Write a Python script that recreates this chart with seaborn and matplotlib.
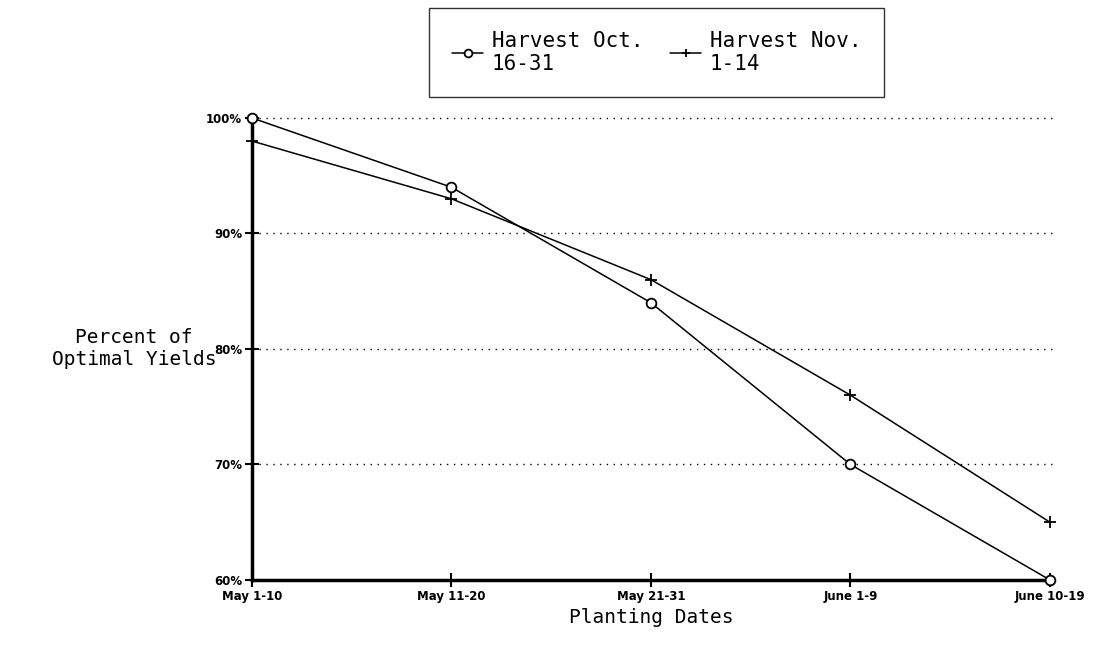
import pandas as pd
import seaborn as sns
import matplotlib.pyplot as plt

Planting_Dates = ["May 1-10", "May 11-20", "May 21-31", "June 1-9", "June 10-19"]
Harvest_Oct = [100, 94, 84, 70, 60]
Harvest_Nov = [98, 93, 86, 76, 65]
Y_Ticks = [60, 70, 80, 90, 100]
Series_Names = ["Harvest Oct.\n16-31", "Harvest Nov.\n1-14"]

Data = pd.DataFrame({
    "date": list(range(len(Planting_Dates))) * 2,
    "yield": Harvest_Oct + Harvest_Nov,
    "series": [Series_Names[0]] * len(Harvest_Oct) + [Series_Names[1]] * len(Harvest_Nov),
})

sns.set_style("white")
plt.rcParams['font.family'] = ['DejaVu Sans Mono', 'DejaVu Sans']
plt.rcParams['text.color'] = "black"
plt.rcParams['axes.labelcolor'] = "black"

fig = plt.figure(figsize=(11, 6.48), dpi=100)
ax = fig.add_axes([0.229, 0.105, 0.7255, 0.713])

plot = sns.lineplot(data=Data, x="date", y="yield", hue="series", style="series",
                    palette=["black", "black"], markers=["o", "P"], dashes=False,
                    markersize=7, linewidth=1.1, ax=ax, legend=True)
for line in ax.lines:
    line.set_markerfacecolor("white")
    line.set_markeredgecolor("black")
    line.set_markeredgewidth(1.3)
    line.set_clip_on(False)
    line.set_zorder(5)
ax.lines[1].set_marker("+")
ax.lines[1].set_markersize(8)

ax.set_xlim(0, 4)
ax.set_ylim(60, 100)
ax.set_xticks(range(len(Planting_Dates)))
ax.set_xticklabels(Planting_Dates, fontsize=8.5, fontweight="bold", family="DejaVu Sans Condensed")
ax.set_yticks(Y_Ticks)
ax.set_yticklabels([str(v) + "%" for v in Y_Ticks], fontsize=8.5, fontweight="bold",
                   family="DejaVu Sans Condensed")
for v in Y_Ticks[1:]:
    ax.axhline(v, xmin=0, xmax=1.006, color="black", linestyle=(0, (1, 4)), linewidth=1,
               clip_on=False, zorder=0)

sns.despine(ax=ax, top=True, right=True)
ax.spines["left"].set_linewidth(2.5)
ax.spines["bottom"].set_linewidth(2.5)
ax.spines["left"].set_color("black")
ax.spines["bottom"].set_color("black")
ax.tick_params(axis="both", bottom=True, left=True, direction="inout", length=10, width=1.5,
               colors="black", pad=2)

ax.set_xlabel("Planting Dates", fontsize=14, labelpad=4)
ax.set_ylabel("Percent of\nOptimal Yields", fontsize=14, rotation=0, ha="center", va="center",
              labelpad=0)
ax.yaxis.set_label_coords(-0.148, 0.5)

handles, labels = ax.get_legend_handles_labels()
for h in handles:
    h.set_markerfacecolor("white")
handles[1].set_marker("+")
ax.legend_.remove()
fig.legend(handles, labels, loc="upper center", bbox_to_anchor=(0.597, 0.988), ncol=2,
           frameon=True, fancybox=False, edgecolor="black", fontsize=15, handlelength=1.5,
           handletextpad=0.4, columnspacing=1.3, borderpad=1.1, borderaxespad=0,
           markerscale=0.8)

plt.savefig("out.png", dpi=100)
